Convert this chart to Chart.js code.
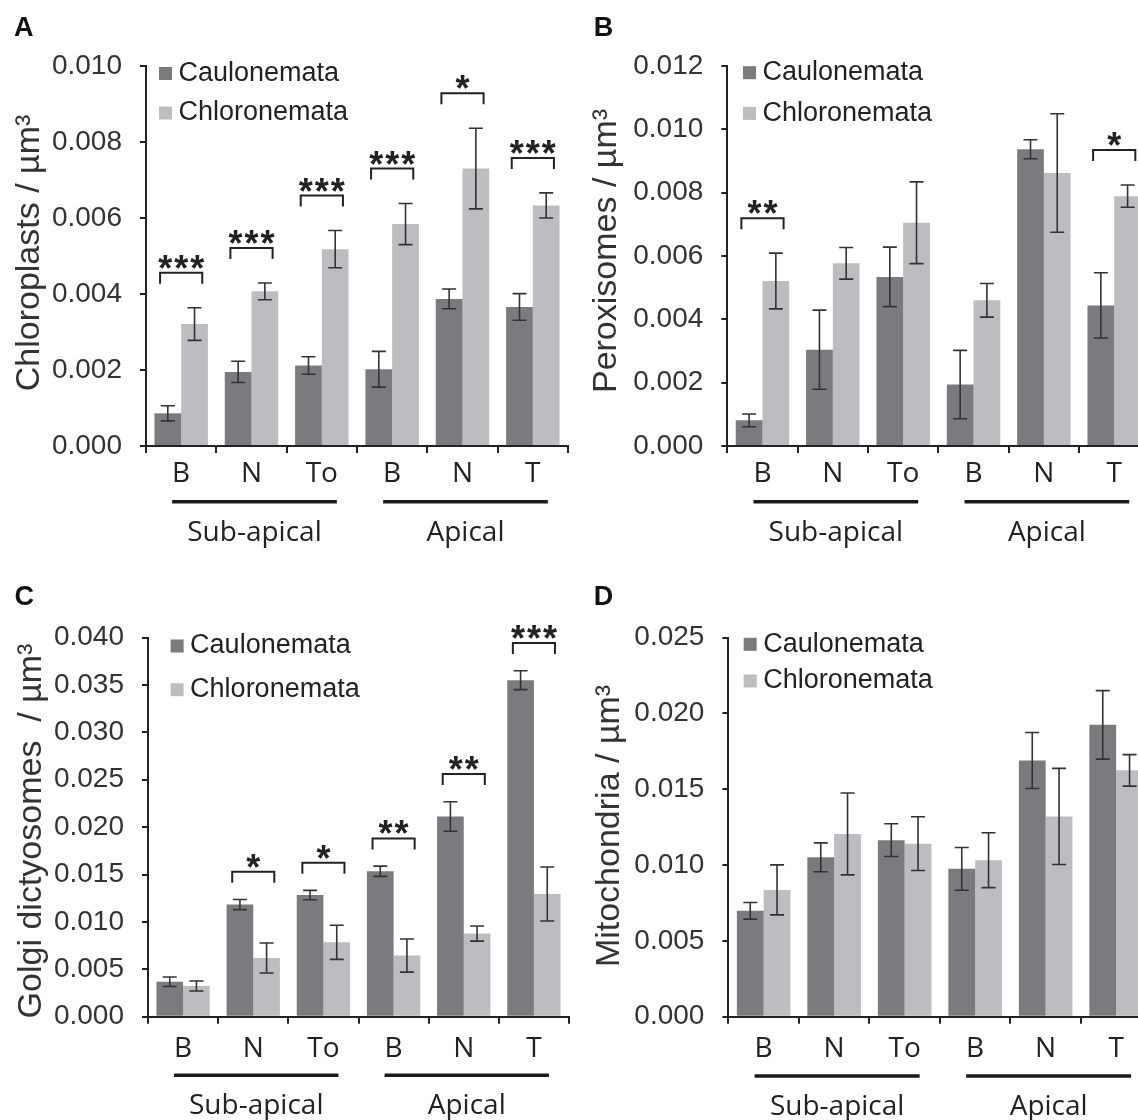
<!DOCTYPE html>
<html><head><meta charset="utf-8">
<script src="https://cdn.jsdelivr.net/npm/chart.js@4.4.1/dist/chart.umd.min.js"></script>
<style>
html,body{margin:0;padding:0;background:#fff;overflow:hidden;width:1138px;height:1120px;position:relative}
canvas{position:absolute}
</style></head><body>
<canvas id="cA" width="570" height="570" style="left:0;top:0"></canvas>
<canvas id="cB" width="600" height="570" style="left:570px;top:0"></canvas>
<canvas id="cC" width="570" height="560" style="left:0;top:570px"></canvas>
<canvas id="cD" width="600" height="560" style="left:570px;top:570px"></canvas>
<script>
// ---------- DATA ----------
const categories = ['B', 'N', 'To', 'B', 'N', 'T'];
const groupNames = ['Sub-apical', 'Apical'];
const groupSpans = [[0, 2], [3, 5]];
const seriesNames = ['Caulonemata', 'Chloronemata'];

// A: Chloroplasts
const chloroCaul    = [0.00086, 0.00195, 0.00212, 0.00202, 0.00387, 0.00366];
const chloroCaulErr = [0.00020, 0.00028, 0.00023, 0.00047, 0.00026, 0.00035];
const chloroChl     = [0.00321, 0.00407, 0.00518, 0.00584, 0.00730, 0.00633];
const chloroChlErr  = [0.00043, 0.00022, 0.00049, 0.00054, 0.00106, 0.00033];
const chloroSig     = ['***', '***', '***', '***', '*', '***'];
const chloroTicks   = ['0.000', '0.002', '0.004', '0.006', '0.008', '0.010'];

// B: Peroxisomes
const peroxCaul    = [0.00081, 0.00304, 0.00534, 0.00194, 0.00937, 0.00444];
const peroxCaulErr = [0.00020, 0.00125, 0.00094, 0.00108, 0.00030, 0.00103];
const peroxChl     = [0.00521, 0.00577, 0.00705, 0.00460, 0.00862, 0.00789];
const peroxChlErr  = [0.00088, 0.00050, 0.00129, 0.00053, 0.00187, 0.00035];
const peroxSig     = ['**', '', '', '', '', '*'];
const peroxTicks   = ['0.000', '0.002', '0.004', '0.006', '0.008', '0.010', '0.012'];

// C: Golgi dictyosomes
const golgiCaul    = [0.00369, 0.01183, 0.01283, 0.01534, 0.02112, 0.03550];
const golgiCaulErr = [0.00050, 0.00054, 0.00050, 0.00054, 0.00155, 0.00100];
const golgiChl     = [0.00324, 0.00619, 0.00785, 0.00645, 0.00877, 0.01294];
const golgiChlErr  = [0.00053, 0.00158, 0.00180, 0.00175, 0.00080, 0.00285];
const golgiSig     = ['', '*', '*', '**', '**', '***'];
const golgiTicks   = ['0.000', '0.005', '0.010', '0.015', '0.020', '0.025', '0.030', '0.035', '0.040'];

// D: Mitochondria
const mitoCaul    = [0.00698, 0.01051, 0.01164, 0.00975, 0.01689, 0.01924];
const mitoCaulErr = [0.00055, 0.00095, 0.00108, 0.00141, 0.00185, 0.00226];
const mitoChl     = [0.00836, 0.01205, 0.01141, 0.01032, 0.01320, 0.01624];
const mitoChlErr  = [0.00165, 0.00270, 0.00177, 0.00181, 0.00317, 0.00104];
const mitoSig     = ['', '', '', '', '', ''];
const mitoTicks   = ['0.000', '0.005', '0.010', '0.015', '0.020', '0.025'];

// ---------- STYLE ----------
const DARK = '#7a7b7f', LIGHT = '#bcbdc1', INK = '#222', TICKINK = '#333';
const NUMFONT = '"Liberation Sans", Arial, sans-serif';
const CATFONT = '"Open Sans", sans-serif';

function makePanel(id, d, s) {
  const el0 = document.getElementById(id);
  const W = el0.width, H = el0.height;
  const tickVals = d.ticks.map(Number);
  const overlay = {
    id: 'overlay' + id,
    afterDatasetsDraw(chart) {
      const ctx = chart.ctx, x = chart.scales.x, y = chart.scales.y;
      const metas = [chart.getDatasetMeta(0), chart.getDatasetMeta(1)];
      const vals = [d.caul, d.chl], errs = [d.caulErr, d.chlErr];
      ctx.save();
      // error bars
      ctx.strokeStyle = '#333'; ctx.lineWidth = 1.6;
      metas.forEach((m, si) => {
        m.data.forEach((el, i) => {
          const v = vals[si][i], e = errs[si][i];
          const yt = y.getPixelForValue(v + e), yb = y.getPixelForValue(v - e);
          ctx.beginPath();
          ctx.moveTo(el.x, yt); ctx.lineTo(el.x, yb);
          ctx.moveTo(el.x - 7, yt); ctx.lineTo(el.x + 7, yt);
          ctx.moveTo(el.x - 7, yb); ctx.lineTo(el.x + 7, yb);
          ctx.stroke();
        });
      });
      // significance brackets
      const cw = x.getPixelForValue(1) - x.getPixelForValue(0);
      d.sig.forEach((txt, i) => {
        if (!txt) return;
        const top = Math.min(y.getPixelForValue(d.caul[i] + d.caulErr[i]), y.getPixelForValue(d.chl[i] + d.chlErr[i]));
        const by = top - s.bracketGap;
        const cx = x.getPixelForValue(i);
        const hw = 0.3 * cw;
        ctx.strokeStyle = INK; ctx.lineWidth = 2;
        ctx.beginPath();
        ctx.moveTo(cx - hw, by + 11); ctx.lineTo(cx - hw, by); ctx.lineTo(cx + hw, by); ctx.lineTo(cx + hw, by + 11);
        ctx.stroke();
        ctx.fillStyle = INK; ctx.font = 'bold 36px ' + NUMFONT;
        ctx.textAlign = 'center'; ctx.textBaseline = 'alphabetic';
        const n = txt.length, step = 16;
        for (let k = 0; k < n; k++) {
          ctx.fillText(txt[k], cx + (k - (n - 1) / 2) * step, by + 8);
        }
      });
      ctx.restore();
    },
    afterDraw(chart) {
      const ctx = chart.ctx, x = chart.scales.x, area = chart.chartArea;
      ctx.save();
      // legend
      const cols = [DARK, LIGHT];
      seriesNames.forEach((n, i) => {
        const ry = s.legRows[i];
        ctx.fillStyle = cols[i];
        ctx.fillRect(s.legX, ry - 6.5, 13, 13);
        ctx.fillStyle = INK; ctx.font = '27px ' + NUMFONT;
        ctx.textAlign = 'left'; ctx.textBaseline = 'middle';
        ctx.fillText(n, s.legX + 19.5, ry);
      });
      // panel letter
      ctx.fillStyle = '#111'; ctx.font = 'bold 27px ' + NUMFONT;
      ctx.textAlign = 'left'; ctx.textBaseline = 'alphabetic';
      ctx.fillText(s.letter, s.letterX, s.letterY);
      // y title
      ctx.save();
      ctx.translate(s.titleX, s.titleY);
      ctx.rotate(-Math.PI / 2);
      ctx.fillStyle = TICKINK; ctx.font = '34px ' + NUMFONT;
      ctx.textAlign = 'center'; ctx.textBaseline = 'alphabetic';
      ctx.fillText(d.title, 0, 0);
      ctx.restore();
      // group lines + labels
      groupSpans.forEach((g, gi) => {
        const l = x.getPixelForValue(g[0]) - 9, r = x.getPixelForValue(g[1]) + 15;
        const ly = area.bottom + s.groupLineDy;
        ctx.strokeStyle = '#1a1a1a'; ctx.lineWidth = 3.5;
        ctx.beginPath(); ctx.moveTo(l, ly); ctx.lineTo(r, ly); ctx.stroke();
        ctx.fillStyle = INK; ctx.font = '28px ' + CATFONT;
        ctx.textAlign = 'center'; ctx.textBaseline = 'middle';
        ctx.fillText(groupNames[gi], (l + r) / 2, ly + 31);
      });
      ctx.restore();
    }
  };
  return new Chart(el0, {
    type: 'bar',
    data: {
      labels: categories,
      datasets: [
        { label: seriesNames[0], data: d.caul, backgroundColor: DARK, borderWidth: 0, barPercentage: 1, categoryPercentage: 0.76 },
        { label: seriesNames[1], data: d.chl, backgroundColor: LIGHT, borderWidth: 0, barPercentage: 1, categoryPercentage: 0.76 }
      ]
    },
    options: {
      responsive: false, animation: false, devicePixelRatio: 1,
      layout: { padding: { left: 0, top: s.area.t, right: W - s.area.r, bottom: 0 } },
      plugins: { legend: { display: false }, tooltip: { enabled: false } },
      scales: {
        x: {
          grid: { offset: true, drawOnChartArea: false, tickLength: 7, color: INK, lineWidth: 2 },
          border: { color: INK, width: 2 },
          ticks: { font: { family: CATFONT, size: 28 }, color: INK, padding: s.xPad, maxRotation: 0 },
          afterFit(sc) { sc.height = H - s.area.b; }
        },
        y: {
          min: tickVals[0], max: tickVals[tickVals.length - 1],
          afterBuildTicks(sc) { sc.ticks = tickVals.map(v => ({ value: v })); },
          ticks: { callback: (v, i) => d.ticks[i], font: { family: NUMFONT, size: 28 }, color: TICKINK, padding: 18 },
          grid: { drawOnChartArea: false, tickLength: 6, color: INK, lineWidth: 2 },
          border: { color: INK, width: 2 },
          afterFit(sc) { sc.width = s.area.l; }
        }
      }
    },
    plugins: [overlay]
  });
}

makePanel('cA',
  { caul: chloroCaul, caulErr: chloroCaulErr, chl: chloroChl, chlErr: chloroChlErr, sig: chloroSig, ticks: chloroTicks, title: 'Chloroplasts / µm³' },
  { area: { l: 146, t: 66, r: 568, b: 446 }, bracketGap: 35, legX: 159, legRows: [73.5, 113], letter: 'A', letterX: 14, letterY: 36,
    titleX: 38.5, titleY: 253, groupLineDy: 55.7, xPad: 4.2 });
makePanel('cB',
  { caul: peroxCaul, caulErr: peroxCaulErr, chl: peroxChl, chlErr: peroxChlErr, sig: peroxSig, ticks: peroxTicks, title: 'Peroxisomes / µm³' },
  { area: { l: 157.3, t: 66, r: 579.4, b: 446 }, bracketGap: 35, legX: 173, legRows: [72.7, 113.4], letter: 'B', letterX: 23.7, letterY: 36,
    titleX: 46, titleY: 251, groupLineDy: 55.7, xPad: 4.2 });
makePanel('cC',
  { caul: golgiCaul, caulErr: golgiCaulErr, chl: golgiChl, chlErr: golgiChlErr, sig: golgiSig, ticks: golgiTicks, title: 'Golgi dictyosomes  / µm³' },
  { area: { l: 148, t: 67.5, r: 569, b: 446.7 }, bracketGap: 27.7, legX: 170.6, legRows: [76, 119.7], letter: 'C', letterX: 14.6, letterY: 35,
    titleX: 40.5, titleY: 261, groupLineDy: 58.5, xPad: 8.5 });
makePanel('cD',
  { caul: mitoCaul, caulErr: mitoCaulErr, chl: mitoChl, chlErr: mitoChlErr, sig: mitoSig, ticks: mitoTicks, title: 'Mitochondria / µm³' },
  { area: { l: 158.4, t: 67.5, r: 581.4, b: 446.7 }, bracketGap: 27.7, legX: 173.7, legRows: [74.3, 111], letter: 'D', letterX: 23.7, letterY: 35,
    titleX: 49, titleY: 256, groupLineDy: 59.3, xPad: 8.5 });
</script>
</body></html>
